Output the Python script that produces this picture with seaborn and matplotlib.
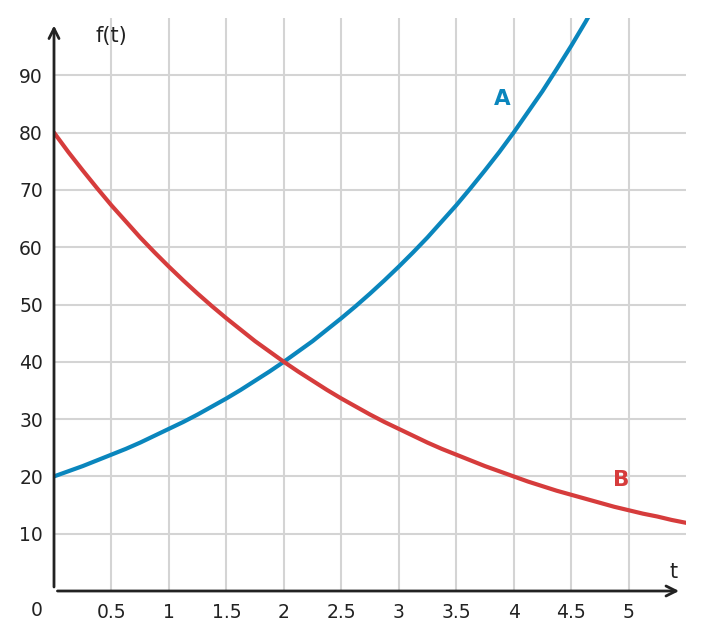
import numpy as np
import pandas as pd
import matplotlib
matplotlib.use('Agg')
import matplotlib.pyplot as plt
import seaborn as sns

# Valores (paso de 0.125 en t)
t_a = [0, 0.125, 0.25, 0.375, 0.5, 0.625, 0.75, 0.875,
       1, 1.125, 1.25, 1.375, 1.5, 1.625, 1.75, 1.875,
       2, 2.125, 2.25, 2.375, 2.5, 2.625, 2.75, 2.875,
       3, 3.125, 3.25, 3.375, 3.5, 3.625, 3.75, 3.875,
       4, 4.125, 4.25, 4.375, 4.5, 4.625, 4.75]
f_a = [20, 20.9, 21.8, 22.8, 23.8, 24.8, 25.9, 27.1,
       28.3, 29.5, 30.8, 32.2, 33.6, 35.1, 36.7, 38.3,
       40, 41.8, 43.6, 45.6, 47.6, 49.7, 51.9, 54.2,
       56.6, 59.1, 61.7, 64.5, 67.3, 70.3, 73.4, 76.6,
       80, 83.6, 87.2, 91.1, 95.1, 99.3, 103.7]

t_b = [0, 0.125, 0.25, 0.375, 0.5, 0.625, 0.75, 0.875,
       1, 1.125, 1.25, 1.375, 1.5, 1.625, 1.75, 1.875,
       2, 2.125, 2.25, 2.375, 2.5, 2.625, 2.75, 2.875,
       3, 3.125, 3.25, 3.375, 3.5, 3.625, 3.75, 3.875,
       4, 4.125, 4.25, 4.375, 4.5, 4.625, 4.75, 4.875,
       5, 5.125, 5.25, 5.375, 5.5]
f_b = [80, 76.6, 73.4, 70.3, 67.3, 64.5, 61.7, 59.1,
       56.6, 54.2, 51.9, 49.7, 47.6, 45.6, 43.6, 41.8,
       40, 38.3, 36.7, 35.1, 33.6, 32.2, 30.8, 29.5,
       28.3, 27.1, 25.9, 24.8, 23.8, 22.8, 21.8, 20.9,
       20, 19.1, 18.3, 17.5, 16.8, 16.1, 15.4, 14.7,
       14.1, 13.5, 13.0, 12.4, 11.9]

xticks = [0.5, 1, 1.5, 2, 2.5, 3, 3.5, 4, 4.5, 5]
xticklabels = ['0.5', '1', '1.5', '2', '2.5', '3', '3.5', '4', '4.5', '5']
yticks = [10, 20, 30, 40, 50, 60, 70, 80, 90]

azul = '#0a86bd'
rojo = '#d63c3c'
negro = '#222222'

df = pd.concat([
    pd.DataFrame({'t': t_a, 'f': f_a, 'serie': 'A'}),
    pd.DataFrame({'t': t_b, 'f': f_b, 'serie': 'B'}),
], ignore_index=True)

sns.set_style('whitegrid')
plt.rcParams['font.family'] = ['DejaVu Sans']

fig = plt.figure(figsize=(7.03, 6.40), dpi=100)
ax = fig.add_axes([54/703, 49/640, 632/703, 573/640])

sns.lineplot(data=df, x='t', y='f', hue='serie', palette={'A': azul, 'B': rojo},
             linewidth=3, legend=False, ax=ax, sort=False)

ax.set_xlim(0, 5.5)
ax.set_ylim(0, 100)
ax.set_xticks(xticks)
ax.set_xticklabels(xticklabels)
ax.set_yticks(yticks)
ax.set_xlabel('')
ax.set_ylabel('')
ax.grid(True, color='#d4d4d4', linewidth=1.5)
for s in ax.spines.values():
    s.set_visible(False)

ax.tick_params(axis='both', direction='in', length=4.5, width=2, color=negro,
               labelsize=13.5, labelcolor=negro)
ax.tick_params(axis='y', pad=8)
ax.tick_params(axis='x', pad=9)

# Ejes con flecha
ax.annotate('', xy=(0, 98.7), xytext=(0, 0.7), annotation_clip=False,
            arrowprops=dict(arrowstyle='->', color=negro, lw=2,
                            mutation_scale=18, shrinkA=0, shrinkB=0))
ax.annotate('', xy=(5.44, 0), xytext=(0.03, 0), annotation_clip=False,
            arrowprops=dict(arrowstyle='->', color=negro, lw=2,
                            mutation_scale=18, shrinkA=0, shrinkB=0))

ax.text(-0.148, -3.4, '0', ha='center', va='center', fontsize=13.5, color=negro)
ax.text(0.5, 96.8, 'f(t)', ha='center', va='center', fontsize=15, color=negro)
ax.text(5.39, 3.4, 't', ha='center', va='center', fontsize=15, color=negro)
ax.text(3.9, 85.8, 'A', ha='center', va='center', fontsize=15.5,
        fontweight='bold', color=azul)
ax.text(4.94, 19.3, 'B', ha='center', va='center', fontsize=15.5,
        fontweight='bold', color=rojo)

fig.savefig('out.png', dpi=100)
plt.close(fig)
